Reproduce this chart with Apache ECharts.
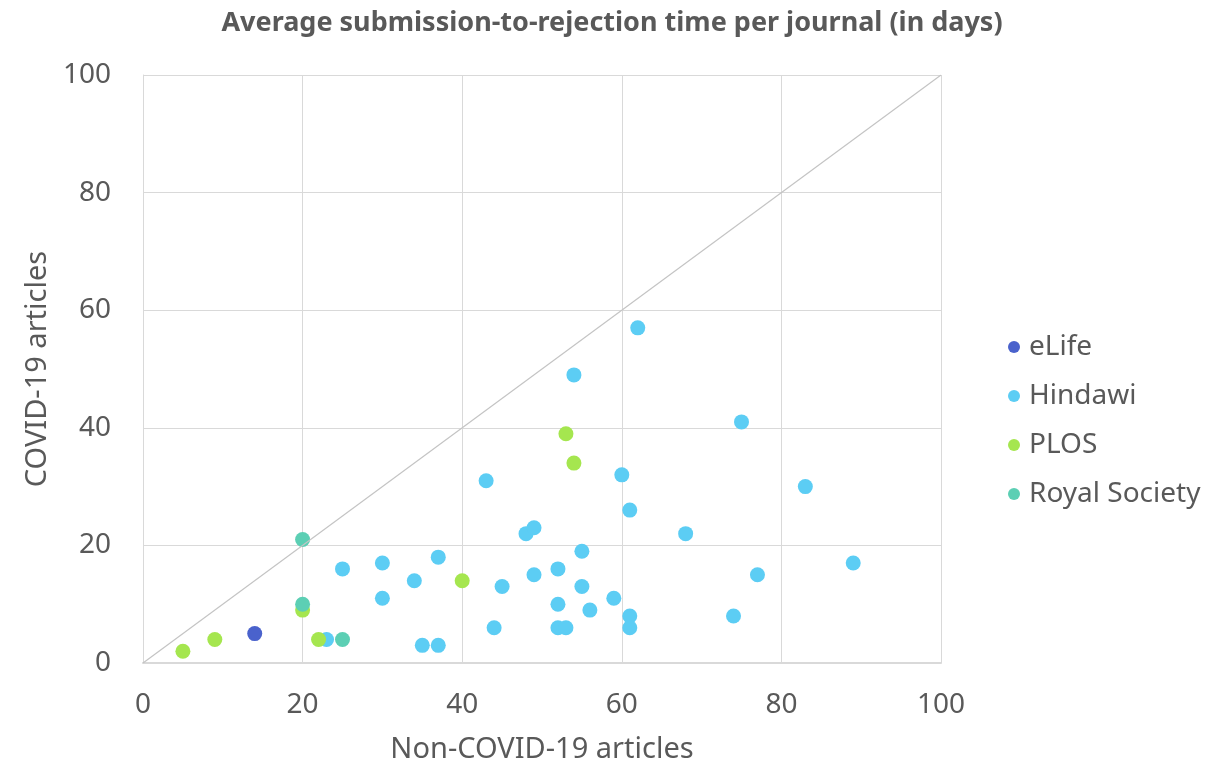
<!DOCTYPE html>
<html>
<head>
<meta charset="utf-8">
<script src="https://cdn.jsdelivr.net/npm/echarts@6/dist/echarts.min.js"></script>
<style>
  html, body { margin: 0; padding: 0; background: #fff; }
  #chart { width: 1224px; height: 769px; }
</style>
</head>
<body>
<div id="chart"></div>
<script>
// [non-COVID-19 days, COVID-19 days] per journal
var eLife = [[14, 5]];
var hindawi = [
  [23, 4], [25, 16], [30, 17], [30, 11], [34, 14], [37, 18], [35, 3], [37, 3],
  [43, 31], [48, 22], [49, 23], [60, 32], [61, 26], [68, 22], [55, 19], [52, 16],
  [45, 13], [49, 15], [55, 13], [59, 11], [52, 10], [56, 9], [61, 8], [61, 6],
  [44, 6], [52, 6], [53, 6], [62, 57], [54, 49], [75, 41], [83, 30], [89, 17],
  [77, 15], [74, 8]
];
var plos = [[5, 2], [9, 4], [20, 9], [22, 4], [40, 14], [53, 39], [54, 34]];
var royalSociety = [[20, 21], [20, 10], [25, 4]];
var diagonal = [[0, 0], [100, 100]];
var journals = ['eLife', 'Hindawi', 'PLOS', 'Royal Society'];

var font = '"Noto Sans", sans-serif';
var textColor = '#595959';

var chart = echarts.init(document.getElementById('chart'));

function dots(name, data, color) {
  return {
    name: name,
    type: 'scatter',
    symbol: 'circle',
    symbolSize: 15,
    itemStyle: { color: color, opacity: 1 },
    data: data
  };
}

chart.setOption({
  animation: false,
  title: {
    text: 'Average submission-to-rejection time per journal (in days)',
    left: 'center',
    top: 5,
    textStyle: { fontFamily: font, fontSize: 27, fontWeight: 'bold', color: textColor }
  },
  legend: {
    data: journals,
    orient: 'vertical',
    left: 1003,
    top: 328,
    itemGap: 21,
    itemWidth: 12,
    itemHeight: 12,
    icon: 'circle',
    textStyle: { fontFamily: font, fontSize: 28, color: textColor, padding: [0, 0, 0, 4] }
  },
  grid: { left: 143, right: 283, top: 75, bottom: 105 },
  xAxis: {
    type: 'value',
    min: 0,
    max: 100,
    interval: 20,
    name: 'Non-COVID-19 articles',
    nameLocation: 'middle',
    nameGap: 72,
    nameTextStyle: { fontFamily: font, fontSize: 29, color: textColor },
    axisLine: { show: true, lineStyle: { color: '#d9d9d9', width: 2 } },
    axisTick: { show: false },
    axisLabel: { margin: 28, fontFamily: font, fontSize: 28, color: textColor },
    splitLine: { show: true, lineStyle: { color: '#d9d9d9', width: 1 } }
  },
  yAxis: {
    type: 'value',
    min: 0,
    max: 100,
    interval: 20,
    name: 'COVID-19 articles',
    nameLocation: 'middle',
    nameGap: 91,
    nameTextStyle: { fontFamily: font, fontSize: 29, color: textColor },
    axisLine: { show: true, lineStyle: { color: '#d9d9d9', width: 1 } },
    axisTick: { show: false },
    axisLabel: { margin: 32, fontFamily: font, fontSize: 28, color: textColor },
    splitLine: { show: true, lineStyle: { color: '#d9d9d9', width: 1 } }
  },
  series: [
    {
      name: 'diagonal',
      type: 'line',
      data: diagonal,
      symbol: 'none',
      silent: true,
      lineStyle: { color: '#c4c4c4', width: 1.2 }
    },
    dots('eLife', eLife, '#4a62cc'),
    dots('Hindawi', hindawi, '#5ccdf4'),
    dots('PLOS', plos, '#a5e64f'),
    dots('Royal Society', royalSociety, '#5ccfb4')
  ]
});
</script>
</body>
</html>
